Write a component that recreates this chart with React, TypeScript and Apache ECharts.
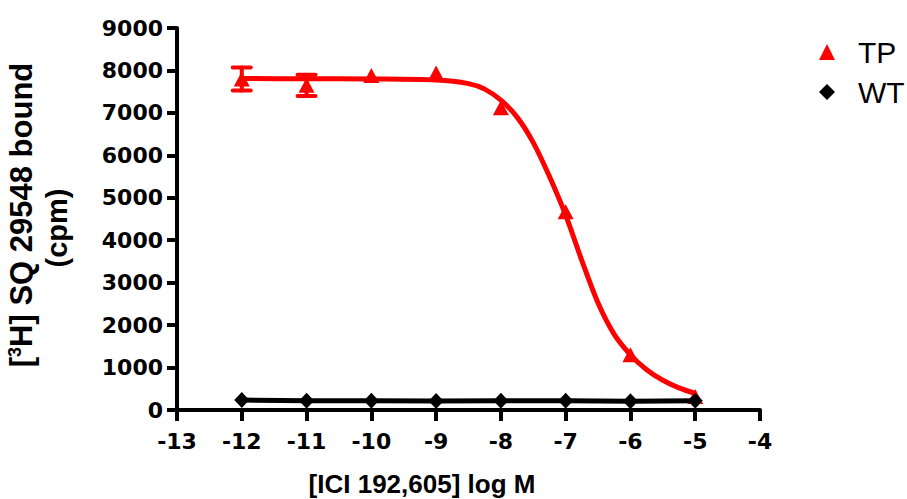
import React, { useEffect, useRef } from "react";
import * as echarts from "echarts";

const doses = [-12, -11, -10, -9, -8, -7, -6, -5];
const tpMean = [7800, 7650, 7880, 7940, 7120, 4670, 1300, 320];
const tpErr = [270, 250, 0, 0, 0, 0, 0, 0];
const wtMean = [235, 215, 215, 210, 220, 215, 205, 215];

const fitX = [-12, -11, -10, -9, -8.5, -8.25, -8, -7.75, -7.5, -7.25, -7, -6.75, -6.5, -6.25, -6, -5.75, -5.5, -5.25, -5];
const fitY = [7810, 7805, 7800, 7775, 7690, 7560, 7300, 6900, 6300, 5500, 4590, 3520, 2520, 1780, 1300, 950, 700, 520, 390];

const xTitle = "[ICI 192,605] log M";
const yTitleRich = "{n|[}{s|3}{n|H] SQ 29548 bound}";
const yTitle2 = "(cpm)";

export default function App() {
  const ref = useRef<HTMLDivElement>(null);
  useEffect(() => {
    if (!ref.current) return;
    const chart = echarts.init(ref.current, null, { renderer: "svg" });
    const tickFont = "DejaVu Sans";
    const titleFont = "Liberation Sans";
    chart.setOption({
      animation: false,
      backgroundColor: "#fff",
      grid: { left: 177, right: 147, top: 28, bottom: 89, containLabel: false },
      xAxis: {
        type: "value",
        min: -13,
        max: -4,
        interval: 1,
        splitLine: { show: false },
        axisLine: { onZero: false, lineStyle: { color: "#000", width: 4 } },
        axisTick: { length: 11, lineStyle: { color: "#000", width: 4 } },
        axisLabel: { margin: 20, color: "#000", fontFamily: tickFont, fontWeight: "bold", fontSize: 22, formatter: (v: number) => String(v) },
      },
      yAxis: {
        type: "value",
        min: 0,
        max: 9000,
        interval: 1000,
        splitLine: { show: false },
        axisLine: { onZero: false, lineStyle: { color: "#000", width: 4 } },
        axisTick: { length: 10, lineStyle: { color: "#000", width: 4 } },
        axisLabel: { margin: 14, color: "#000", fontFamily: tickFont, fontWeight: "bold", fontSize: 22, formatter: (v: number) => String(v) },
      },
      legend: {
        orient: "vertical",
        left: 814,
        top: 32,
        itemWidth: 16,
        itemHeight: 16,
        itemGap: 10,
        textStyle: { fontFamily: titleFont, fontSize: 30, color: "#000", padding: [0, 0, 0, 18] },
        data: [
          { name: "TP", icon: "triangle" },
          { name: "WT", icon: "diamond" },
        ],
      },
      graphic: [
        {
          type: "text",
          x: 422,
          y: 484,
          style: {
            text: xTitle,
            fill: "#000",
            font: `bold 26px "${titleFont}"`,
            textAlign: "center",
            textVerticalAlign: "middle",
          },
        },
        {
          type: "text",
          x: 21,
          y: 215,
          rotation: Math.PI / 2,
          style: {
            text: yTitleRich,
            fill: "#000",
            textAlign: "center",
            textVerticalAlign: "middle",
            rich: {
              n: { fontFamily: titleFont, fontWeight: "bold", fontSize: 31, fill: "#000", color: "#000" },
              s: { fontFamily: titleFont, fontWeight: "bold", fontSize: 18, fill: "#000", color: "#000", verticalAlign: "top" },
            },
          },
        },
        {
          type: "text",
          x: 57,
          y: 228,
          rotation: Math.PI / 2,
          style: {
            text: yTitle2,
            fill: "#000",
            font: `bold 29px "${titleFont}"`,
            textAlign: "center",
            textVerticalAlign: "middle",
          },
        },
      ],
      series: [
        {
          name: "TP fit",
          type: "line",
          data: fitX.map((x, i) => [x, fitY[i]]),
          smooth: 0.3,
          showSymbol: false,
          symbol: "none",
          lineStyle: { color: "#ff0000", width: 5 },
          z: 2,
        },
        {
          name: "TP err",
          type: "custom",
          data: doses
            .map((x, i) => [x, tpMean[i] - tpErr[i], tpMean[i] + tpErr[i], tpErr[i]])
            .filter((d) => d[3] > 0),
          renderItem: (params: any, api: any) => {
            const lo = api.coord([api.value(0), api.value(1)]);
            const hi = api.coord([api.value(0), api.value(2)]);
            const hw = 9;
            const style = { stroke: "#ff0000", lineWidth: 4, lineCap: "round" };
            return {
              type: "group",
              children: [
                { type: "line", shape: { x1: lo[0], y1: lo[1], x2: hi[0], y2: hi[1] }, style },
                { type: "line", shape: { x1: lo[0] - hw, y1: lo[1], x2: lo[0] + hw, y2: lo[1] }, style },
                { type: "line", shape: { x1: hi[0] - hw, y1: hi[1], x2: hi[0] + hw, y2: hi[1] }, style },
              ],
            };
          },
          z: 3,
        },
        {
          name: "TP",
          type: "scatter",
          data: doses.map((x, i) => [x, tpMean[i]]),
          symbol: "triangle",
          symbolSize: [16, 15],
          itemStyle: { color: "#ff0000", opacity: 1 },
          z: 4,
        },
        {
          name: "WT",
          type: "line",
          data: doses.map((x, i) => [x, wtMean[i]]),
          symbol: "diamond",
          symbolSize: [15, 16],
          showSymbol: true,
          itemStyle: { color: "#000" },
          lineStyle: { color: "#000", width: 5 },
          z: 5,
        },
      ],
    });
    return () => chart.dispose();
  }, []);
  return <div ref={ref} style={{ position: "absolute", left: 0, top: 0, width: 907, height: 499 }} />;
}
